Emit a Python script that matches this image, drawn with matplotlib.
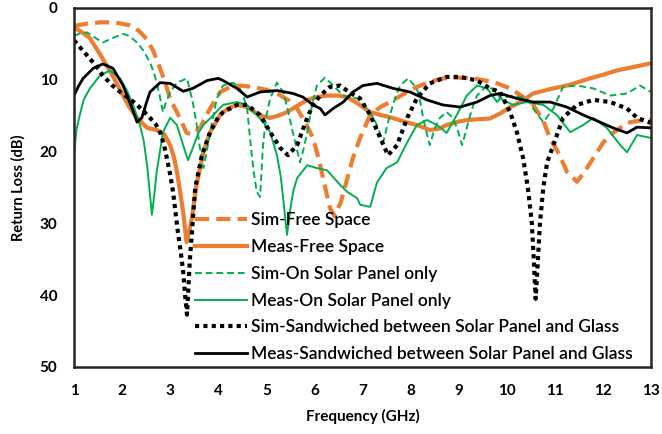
import matplotlib
matplotlib.use('Agg')
import matplotlib.pyplot as plt

plt.rcParams['font.family'] = ['Lato', 'DejaVu Sans']

# ---- data (frequency in GHz, return loss in dB) ----
f_sim_free = [1.0, 1.25, 1.55, 1.85, 2.15, 2.35, 2.51, 2.65, 2.79, 2.9, 3.0, 3.1, 3.2, 3.34, 3.48, 3.62,
              3.83, 4.04, 4.25, 4.45, 4.72, 5.0, 5.22, 5.45, 5.64, 5.8, 5.97, 6.08, 6.18, 6.32, 6.42, 6.55,
              6.8, 6.95, 7.16, 7.37, 7.57, 7.85, 8.13, 8.4, 8.67, 9.0, 9.3, 9.55, 9.8, 10.07, 10.3, 10.55,
              10.75, 10.9, 11.1, 11.25, 11.46, 11.62, 11.8, 12.0, 12.15, 12.5, 12.75, 13.0]
rl_sim_free = [2.5, 2.2, 2.0, 2.0, 2.4, 3.2, 4.3, 6.0, 8.4, 10.5, 12.6, 14.0, 15.3, 17.4, 17.6, 16.7,
               14.0, 11.7, 11.0, 10.8, 11.0, 11.4, 11.9, 12.8, 14.0, 15.8, 18.1, 20.8, 23.7, 27.8, 29.0, 27.0,
               20.9, 18.1, 14.9, 13.8, 13.1, 12.0, 11.0, 10.3, 9.8, 9.7, 9.8, 10.1, 10.5, 11.2, 12.2, 13.5,
               15.6, 18.1, 20.5, 22.8, 24.2, 22.8, 20.9, 18.8, 17.7, 16.0, 15.7, 15.6]

f_meas_free = [1.0, 1.15, 1.33, 1.5, 1.68, 1.85, 2.02, 2.15, 2.31, 2.52, 2.72, 2.88, 3.0, 3.08, 3.14, 3.2,
               3.27, 3.34, 3.4, 3.45, 3.55, 3.69, 3.83, 4.04, 4.2, 4.39, 4.6, 4.87, 5.08, 5.25, 5.43, 5.65,
               5.85, 6.05, 6.26, 6.5, 6.68, 6.9, 7.16, 7.37, 7.57, 7.85, 8.13, 8.4, 8.6, 8.75, 8.95, 9.17,
               9.4, 9.65, 9.86, 10.05, 10.28, 10.55, 10.9, 11.25, 11.5, 11.73, 12.0, 12.29, 12.65, 13.0]
rl_meas_free = [2.7, 3.3, 4.2, 6.0, 8.0, 10.0, 12.2, 13.8, 15.3, 16.7, 17.0, 17.6, 19.1, 20.8, 22.8, 25.3,
                28.4, 32.6, 31.0, 29.3, 24.6, 20.1, 17.3, 14.9, 14.0, 13.5, 13.8, 15.0, 15.3, 15.0, 14.5, 13.6,
                12.8, 12.4, 12.2, 12.2, 12.4, 13.3, 14.5, 14.9, 15.2, 15.8, 16.3, 17.0, 16.8, 16.3, 15.9, 15.6,
                15.5, 15.4, 14.7, 13.9, 13.1, 11.9, 11.3, 10.8, 10.3, 9.8, 9.3, 8.7, 8.2, 7.7]

f_sim_panel = [1.0, 1.1, 1.27, 1.45, 1.6, 1.8, 2.02, 2.15, 2.31, 2.45, 2.58, 2.65, 2.72, 2.79, 2.85, 2.92,
               3.0, 3.14, 3.35, 3.47, 3.55, 3.62, 3.69, 3.76, 3.83, 3.97, 4.1, 4.31, 4.45, 4.52, 4.6, 4.66,
               4.73, 4.8, 4.87, 4.93, 5.0, 5.08, 5.22, 5.35, 5.45, 5.55, 5.7, 5.78, 5.85, 5.95, 6.05, 6.22,
               6.39, 6.6, 6.89, 7.09, 7.2, 7.3, 7.43, 7.5, 7.57, 7.68, 7.78, 7.95, 8.13, 8.2, 8.26, 8.33,
               8.4, 8.5, 8.61, 8.75, 8.88, 8.98, 9.07, 9.17, 9.27, 9.38, 9.59, 9.8, 9.86, 10.13, 10.42, 10.55,
               10.76, 10.97, 11.17, 11.46, 11.8, 12.15, 12.5, 12.77, 13.0]
rl_sim_panel = [3.9, 3.6, 3.4, 4.2, 4.8, 4.2, 3.6, 3.9, 4.8, 6.0, 7.6, 8.8, 10.4, 12.5, 14.5, 13.0,
                11.7, 10.4, 9.8, 13.1, 16.2, 19.5, 22.3, 20.0, 17.3, 12.6, 10.8, 10.4, 11.2, 12.2, 14.0, 18.1,
                22.5, 25.6, 26.3, 19.1, 15.0, 12.6, 10.4, 11.7, 14.3, 17.3, 21.5, 19.5, 17.3, 13.5, 10.8, 9.7,
                10.8, 12.2, 12.6, 14.0, 15.0, 16.3, 18.7, 16.8, 14.9, 12.5, 10.8, 9.8, 11.2, 13.0, 15.3, 17.3,
                19.1, 16.8, 15.3, 14.5, 15.3, 17.0, 19.1, 16.7, 14.2, 12.2, 10.8, 11.7, 12.6, 12.2, 12.6, 14.0,
                15.9, 14.0, 11.0, 10.8, 11.2, 12.2, 11.9, 10.8, 11.7]

f_meas_panel = [1.0, 1.05, 1.12, 1.2, 1.33, 1.54, 1.75, 1.96, 2.1, 2.23, 2.37, 2.45, 2.52, 2.58, 2.62, 2.67,
                2.72, 2.85, 3.0, 3.14, 3.27, 3.37, 3.47, 3.58, 3.69, 3.9, 4.1, 4.39, 4.6, 4.8, 4.95, 5.08,
                5.22, 5.3, 5.35, 5.43, 5.49, 5.56, 5.64, 5.85, 6.05, 6.26, 6.53, 6.68, 6.89, 6.95, 7.16, 7.3,
                7.5, 7.72, 7.93, 8.13, 8.34, 8.55, 8.75, 8.96, 9.17, 9.38, 9.59, 9.8, 9.86, 10.13, 10.42, 10.76,
                11.04, 11.32, 11.59, 11.8, 12.08, 12.36, 12.5, 12.71, 13.0]
rl_meas_panel = [20.5, 17.0, 14.9, 12.8, 11.2, 9.4, 8.7, 9.8, 11.5, 13.5, 16.3, 18.5, 21.9, 26.0, 28.8, 26.0,
                 22.8, 17.3, 15.3, 16.3, 19.1, 21.2, 19.5, 17.5, 16.3, 14.9, 13.5, 13.1, 13.5, 14.9, 16.0, 17.3,
                 20.5, 23.5, 26.5, 31.6, 28.4, 25.5, 23.7, 21.9, 22.3, 22.6, 24.6, 25.6, 26.5, 27.4, 27.7, 24.3,
                 22.3, 21.5, 18.7, 16.3, 15.6, 16.3, 17.4, 14.9, 12.2, 10.8, 11.2, 13.1, 12.6, 13.5, 13.1, 13.5,
                 14.9, 17.3, 16.3, 15.3, 16.7, 19.1, 20.1, 17.7, 18.1]

f_sim_sand = [1.0, 1.1, 1.27, 1.45, 1.6, 1.8, 1.96, 2.15, 2.31, 2.45, 2.58, 2.7, 2.79, 2.87, 2.93, 3.0,
              3.06, 3.16, 3.22, 3.27, 3.31, 3.35, 3.41, 3.52, 3.66, 3.83, 4.0, 4.1, 4.39, 4.6, 4.87, 5.08,
              5.29, 5.45, 5.64, 5.85, 5.97, 6.12, 6.32, 6.53, 6.74, 6.95, 7.16, 7.37, 7.53, 7.72, 7.93, 8.13,
              8.4, 8.75, 9.03, 9.38, 9.65, 9.86, 10.07, 10.21, 10.34, 10.44, 10.52, 10.56, 10.6, 10.64, 10.69, 10.76,
              10.84, 10.97, 11.17, 11.46, 11.8, 12.15, 12.5, 12.71, 13.0]
rl_sim_sand = [4.5, 5.3, 6.6, 8.0, 9.4, 10.8, 11.7, 12.6, 13.5, 14.4, 15.3, 16.2, 17.3, 19.0, 20.9, 23.2,
               25.6, 31.2, 34.0, 36.7, 40.0, 42.7, 35.0, 25.1, 20.5, 17.3, 15.2, 14.5, 13.5, 13.5, 14.9, 17.3,
               19.5, 20.5, 19.1, 15.3, 13.5, 12.2, 11.0, 10.8, 11.8, 12.6, 14.9, 18.1, 20.5, 19.1, 15.3, 12.6,
               10.5, 9.6, 9.6, 10.1, 11.2, 11.7, 14.5, 17.3, 20.9, 25.1, 29.8, 34.8, 40.5, 36.0, 30.0, 25.0,
               21.5, 19.1, 15.3, 13.5, 12.8, 13.1, 14.0, 15.3, 16.0]

f_meas_sand = [1.0, 1.1, 1.19, 1.4, 1.6, 1.81, 2.02, 2.12, 2.21, 2.31, 2.41, 2.5, 2.58, 2.79, 3.0, 3.27,
               3.47, 3.77, 4.0, 4.1, 4.39, 4.6, 4.87, 5.22, 5.55, 5.76, 5.97, 6.12, 6.22, 6.39, 6.6, 6.8,
               7.01, 7.3, 7.64, 7.99, 8.34, 8.67, 9.03, 9.38, 9.65, 9.86, 10.21, 10.55, 10.9, 11.25, 11.59, 11.94,
               12.21, 12.5, 12.71, 13.0]
rl_meas_sand = [12.2, 10.8, 9.8, 8.4, 7.8, 8.4, 10.8, 12.5, 14.0, 15.9, 15.3, 13.3, 11.7, 10.4, 10.5, 11.6,
                11.2, 10.1, 9.8, 10.1, 11.2, 12.4, 11.7, 11.5, 11.9, 12.4, 13.5, 14.0, 14.9, 14.0, 13.1, 11.7,
                10.8, 10.5, 11.2, 11.7, 12.8, 13.5, 13.8, 13.1, 12.2, 11.9, 12.6, 13.1, 13.1, 13.8, 14.9, 15.9,
                16.7, 17.4, 16.6, 16.7]

x_ticks = list(range(1, 14))
y_ticks = [0, 10, 20, 30, 40, 50]

orange = '#ED7D31'
green = '#00B050'

#############################################################
fig = plt.figure(figsize=(6.62, 4.34), dpi=100)
ax = fig.add_axes([0.1118, 0.1544, 0.8716, 0.8272])

ax.plot(f_sim_free, rl_sim_free, color=orange, lw=3.0, ls=(0, (3.4, 1.7)), label='Sim-Free Space')
ax.plot(f_meas_free, rl_meas_free, color=orange, lw=3.0, label='Meas-Free Space')
ax.plot(f_sim_panel, rl_sim_panel, color=green, lw=1.4, ls=(0, (3.5, 2.0)), label='Sim-On Solar Panel only')
ax.plot(f_meas_panel, rl_meas_panel, color=green, lw=1.4, label='Meas-On Solar Panel only')
ax.plot(f_sim_sand, rl_sim_sand, color='black', lw=3.0, ls=(0, (1, 1)), dash_capstyle='butt',
        label='Sim-Sandwiched between Solar Panel and Glass')
ax.plot(f_meas_sand, rl_meas_sand, color='black', lw=2.0,
        label='Meas-Sandwiched between Solar Panel and Glass')

ax.set_xlim(1, 13)
ax.set_ylim(50, 0)
ax.set_xticks(x_ticks)
ax.set_yticks(y_ticks)
ax.tick_params(length=0, labelsize=11, pad=12)
for lab in ax.get_xticklabels() + ax.get_yticklabels():
    lab.set_fontweight('bold')

for sp in ax.spines.values():
    sp.set_linewidth(1.8)
    sp.set_color('#262626')

ax.set_xlabel('Frequency (GHz)', fontsize=11, fontweight='bold', labelpad=8)
ax.set_ylabel('Return Loss (dB)', fontsize=10.5, fontweight='bold', labelpad=10)

leg = ax.legend(loc='upper left', bbox_to_anchor=(0.198, 0.45), frameon=False, fontsize=12.5,
                handlelength=3.0, handletextpad=0.2, labelspacing=0.62, borderaxespad=0)
for t in leg.get_texts():
    t.set_fontweight('semibold')

fig.savefig('out.png', dpi=100)
